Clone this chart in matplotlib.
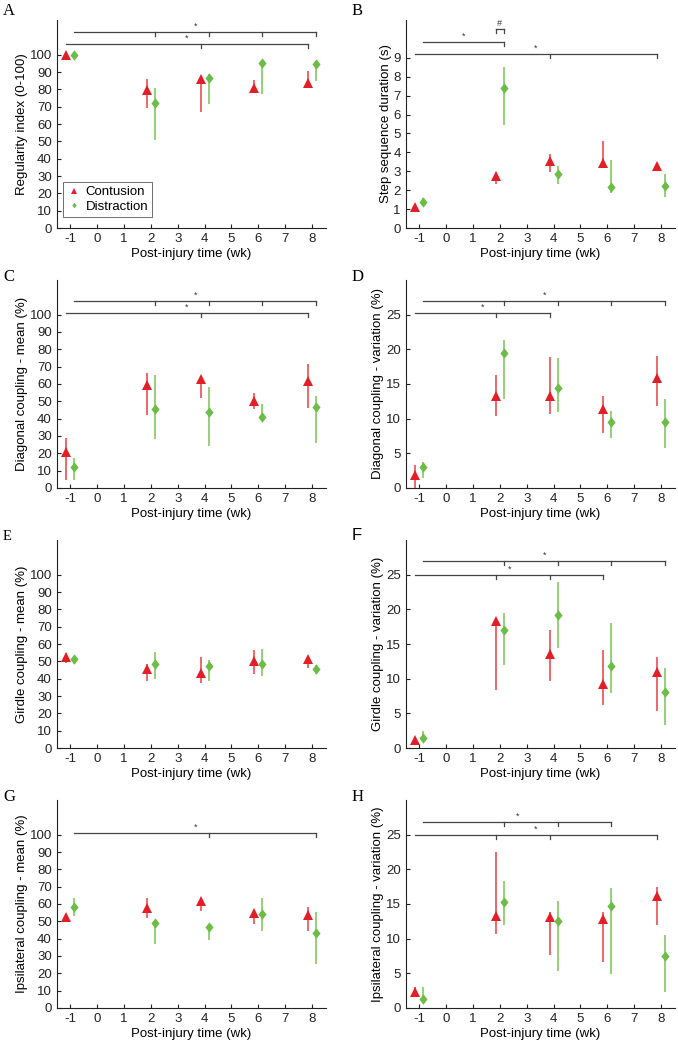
import matplotlib.pyplot as plt
from matplotlib.lines import Line2D

weeks = [-1, 2, 4, 6, 8]
offset = 0.15

red = '#e41e26'
green = '#6cbd45'
red_bar = '#ec5a60'
green_bar = '#8ccd6c'

# A - regularity index
a_con = [100, 79.5, 86, 81, 83.7]
a_con_lo = [100, 69.3, 67, 78, 80.5]
a_con_hi = [100, 85.8, 88, 85.2, 90.4]
a_dis = [100, 72.2, 86.8, 95.2, 94.8]
a_dis_lo = [100, 50.8, 71.5, 77.2, 84.7]
a_dis_hi = [100, 80.8, 88.7, 95.8, 95.8]

# B - step sequence duration
b_con = [1.1, 2.76, 3.55, 3.46, 3.29]
b_con_lo = [1.0, 2.33, 2.94, 3.2, 3.23]
b_con_hi = [1.2, 2.97, 3.9, 4.58, 3.4]
b_dis = [1.36, 7.43, 2.85, 2.15, 2.24]
b_dis_lo = [1.14, 5.47, 2.33, 1.87, 1.66]
b_dis_hi = [1.57, 8.51, 3.29, 3.58, 2.85]

# C - diagonal coupling mean
c_con = [20.5, 59.6, 63, 50, 61.9]
c_con_lo = [4.4, 42.3, 52.1, 45.4, 46.4]
c_con_hi = [28.7, 66.5, 63, 55, 71.3]
c_dis = [11.9, 45.4, 44.1, 41.2, 46.6]
c_dis_lo = [4.8, 28.4, 24.5, 38.9, 25.9]
c_dis_hi = [17.2, 65.1, 58.2, 48.5, 53.3]

# D - diagonal coupling variation
d_con = [1.8, 13.2, 13.3, 11.35, 15.8]
d_con_lo = [0, 10.4, 10.7, 8.0, 11.8]
d_con_hi = [3.3, 16.3, 18.9, 13.2, 19.0]
d_dis = [3.0, 19.5, 14.4, 9.5, 9.5]
d_dis_lo = [1.4, 12.9, 11.0, 7.2, 5.7]
d_dis_hi = [3.8, 21.3, 18.8, 11.1, 12.9]

# E - girdle coupling mean
e_con = [52.7, 45.6, 43.5, 50.4, 51.1]
e_con_lo = [48.9, 38.9, 37.4, 42.7, 46.0]
e_con_hi = [54.6, 48.5, 52.3, 56.5, 52.7]
e_dis = [51.1, 48.5, 47.5, 48.3, 45.6]
e_dis_lo = [48.3, 39.7, 38.7, 41.6, 42.7]
e_dis_hi = [52.7, 55.6, 50.8, 56.9, 47.9]

# F - girdle coupling variation
f_con = [1.2, 18.3, 13.55, 9.24, 10.9]
f_con_lo = [1.0, 8.4, 9.6, 6.2, 5.3]
f_con_hi = [1.3, 18.3, 17.0, 14.1, 13.2]
f_dis = [1.44, 17.0, 19.25, 11.9, 8.05]
f_dis_lo = [0.8, 12.0, 14.5, 8.0, 3.26]
f_dis_hi = [2.5, 19.5, 23.9, 18.0, 11.5]

# G - ipsilateral coupling mean
g_con = [52.7, 57.9, 61.9, 54.6, 53.6]
g_con_lo = [51.5, 52.1, 56.1, 48.5, 44.6]
g_con_hi = [53.3, 63.2, 61.9, 54.6, 58.4]
g_dis = [58.4, 48.9, 46.6, 54.0, 43.5]
g_dis_lo = [53.3, 37.0, 39.3, 44.6, 25.5]
g_dis_hi = [63.2, 48.9, 46.6, 63.2, 55.6]

# H - ipsilateral coupling variation
h_con = [2.3, 13.2, 13.1, 12.8, 16.2]
h_con_lo = [2.2, 10.7, 7.6, 6.6, 12.0]
h_con_hi = [3.0, 22.5, 13.8, 13.9, 17.5]
h_dis = [1.35, 15.3, 12.5, 14.7, 7.55]
h_dis_lo = [0.8, 12.0, 5.4, 4.9, 2.3]
h_dis_hi = [3.0, 18.3, 15.4, 17.3, 10.5]

# significance bars: (x start, x end, y, tick positions, label)
sig_a = [(-0.85, 8.15, 113, [2.15, 4.15, 6.15, 8.15], '*'),
         (-1.15, 7.85, 106, [3.85, 7.85], '*')]
sig_b = [(-0.85, 2.15, 9.86, [2.15], '*'),
         (1.85, 2.15, 10.5, [1.85, 2.15], '#'),
         (-1.15, 7.85, 9.2, [3.85, 7.85], '*')]
sig_c = [(-0.85, 8.15, 108, [2.15, 4.15, 6.15, 8.15], '*'),
         (-1.15, 7.85, 101, [3.85, 7.85], '*')]
sig_d = [(-0.85, 8.15, 27, [2.15, 4.15, 6.15, 8.15], '*'),
         (-1.15, 3.85, 25.2, [1.85, 3.85], '*')]
sig_e = []
sig_f = [(-0.85, 8.15, 27, [2.15, 4.15, 6.15, 8.15], '*'),
         (-1.15, 5.85, 25, [1.85, 3.85, 5.85], '*')]
sig_g = [(-0.85, 8.15, 101, [4.15, 8.15], '*')]
sig_h = [(-0.85, 6.15, 26.8, [2.15, 4.15, 6.15], '*'),
         (-1.15, 7.85, 25, [1.85, 3.85, 7.85], '*')]

panels = [
    ('A', 'Regularity index (0-100)', a_con, a_con_lo, a_con_hi, a_dis, a_dis_lo, a_dis_hi, sig_a, 120, range(0, 101, 10)),
    ('B', 'Step sequence duration (s)', b_con, b_con_lo, b_con_hi, b_dis, b_dis_lo, b_dis_hi, sig_b, 11, range(0, 10)),
    ('C', 'Diagonal coupling - mean (%)', c_con, c_con_lo, c_con_hi, c_dis, c_dis_lo, c_dis_hi, sig_c, 120, range(0, 101, 10)),
    ('D', 'Diagonal coupling - variation (%)', d_con, d_con_lo, d_con_hi, d_dis, d_dis_lo, d_dis_hi, sig_d, 30, range(0, 26, 5)),
    ('E', 'Girdle coupling - mean (%)', e_con, e_con_lo, e_con_hi, e_dis, e_dis_lo, e_dis_hi, sig_e, 120, range(0, 101, 10)),
    ('F', 'Girdle coupling - variation (%)', f_con, f_con_lo, f_con_hi, f_dis, f_dis_lo, f_dis_hi, sig_f, 30, range(0, 26, 5)),
    ('G', 'Ipsilateral coupling - mean (%)', g_con, g_con_lo, g_con_hi, g_dis, g_dis_lo, g_dis_hi, sig_g, 120, range(0, 101, 10)),
    ('H', 'Ipsilateral coupling - variation (%)', h_con, h_con_lo, h_con_hi, h_dis, h_dis_lo, h_dis_hi, sig_h, 30, range(0, 26, 5)),
]

plt.rcParams['font.family'] = 'Liberation Sans'
plt.rcParams['axes.unicode_minus'] = False

diamond = [(0, 1), (0.78, 0), (0, -1), (-0.78, 0)]

fig = plt.figure(figsize=(6.78, 10.44), dpi=100)
lefts = [0.0835, 0.5982]
bottoms = [0.7816, 0.5326, 0.2835, 0.0345]
letter_x = [3 / 678, 352 / 678]
letter_y = [1 - 11 / 1044, 1 - 277 / 1044, 1 - 536 / 1044, 1 - 797 / 1044]

for i, (letter, ylabel, con, con_lo, con_hi, dis, dis_lo, dis_hi, sigs, ytop, yticks) in enumerate(panels):
    ax = fig.add_axes([lefts[i % 2], bottoms[i // 2], 0.3968, 0.1992])
    xc = [w - offset for w in weeks]
    xd = [w + offset for w in weeks]
    ax.vlines(xc, con_lo, con_hi, color=red_bar, lw=1.3, zorder=2)
    ax.vlines(xd, dis_lo, dis_hi, color=green_bar, lw=1.3, zorder=2)
    ax.plot(xc, con, ls='none', marker='^', ms=7.5, color=red, mew=0, zorder=3)
    ax.plot(xd, dis, ls='none', marker=diamond, ms=7.5, color=green, mew=0, zorder=3)

    tick_len = 0.019 * ytop
    for x0, x1, y, ticks, lab in sigs:
        ax.plot([x0, x1], [y, y], color='#444444', lw=0.9, clip_on=False)
        for t in ticks:
            ax.plot([t, t], [y, y - tick_len], color='#444444', lw=0.9, clip_on=False)
        ax.text((x0 + x1) / 2, y + 0.3 * tick_len, lab, ha='center', va='bottom', fontsize=6.5, color='#333333')

    ax.set_xlim(-1.5, 8.5)
    ax.set_ylim(0, ytop)
    ax.set_xticks(range(-1, 9))
    ax.set_yticks(list(yticks))
    ax.tick_params(direction='in', length=3, labelsize=9.5, width=0.8, colors='#222222')
    for s in ['top', 'right']:
        ax.spines[s].set_visible(False)
    for s in ['left', 'bottom']:
        ax.spines[s].set_linewidth(0.8)
        ax.spines[s].set_color('#222222')
    ax.set_xlabel('Post-injury time (wk)', fontsize=9.5, labelpad=2)
    ax.set_ylabel(ylabel, fontsize=9.5, labelpad=1)

    if letter == 'F':
        fig.text(letter_x[i % 2], letter_y[i // 2], letter, fontsize=12,
                 family='Liberation Sans', va='center', ha='left')
    else:
        fig.text(letter_x[i % 2], letter_y[i // 2], letter, fontsize=12 if letter != 'E' else 10.5,
                 family='Liberation Serif', va='center', ha='left')

    if letter == 'A':
        handles = [Line2D([], [], ls='none', marker='^', ms=4, color=red, mew=0),
                   Line2D([], [], ls='none', marker=diamond, ms=4, color=green, mew=0)]
        leg = ax.legend(handles, ['Contusion', 'Distraction'], loc='lower left',
                        bbox_to_anchor=(0.024, 0.053), borderaxespad=0, fontsize=9.5,
                        fancybox=False, framealpha=1, handlelength=1, handletextpad=0.4,
                        borderpad=0.3, labelspacing=0.2)
        leg.get_frame().set_edgecolor('#555555')
        leg.get_frame().set_linewidth(0.6)

plt.savefig('out.png', dpi=100)
